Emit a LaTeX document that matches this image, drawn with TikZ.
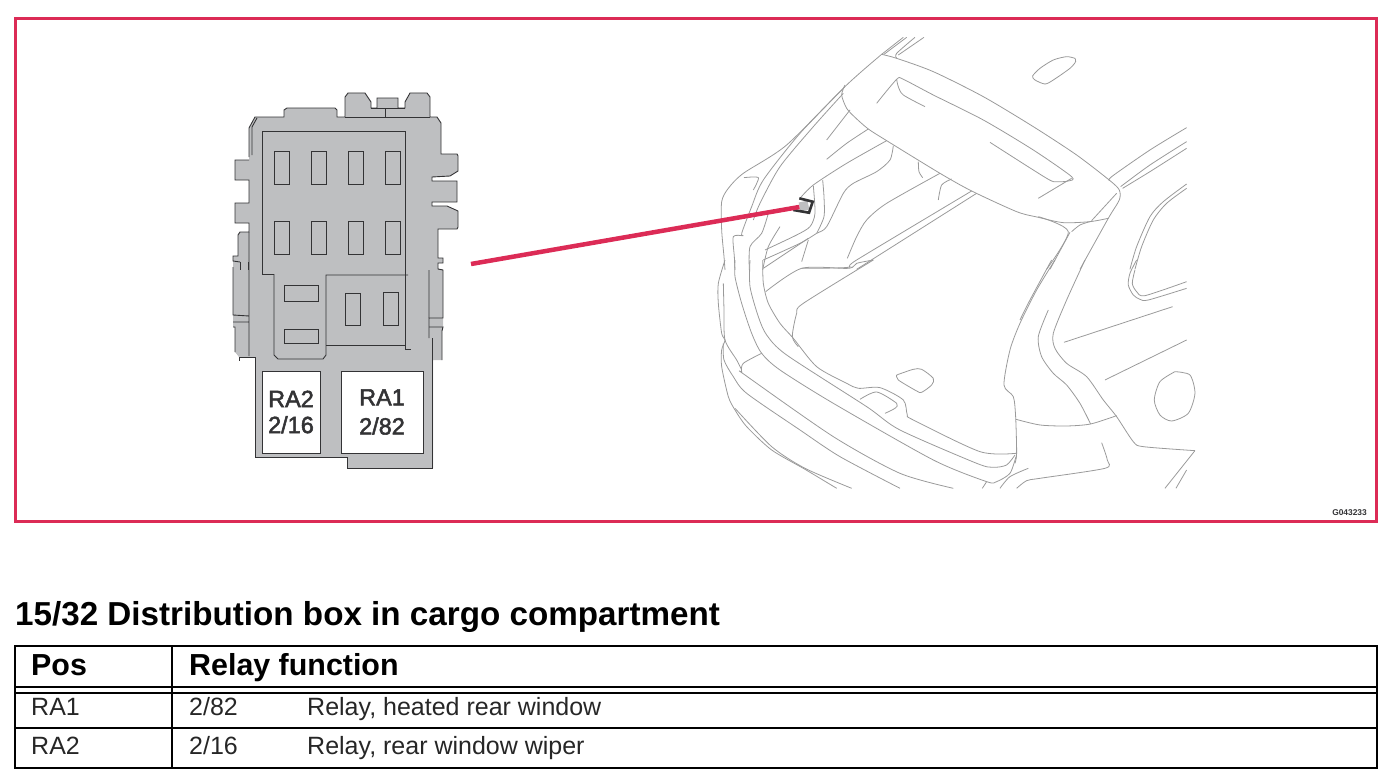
\documentclass[tikz,border=0pt]{standalone}
\usepackage{fontspec}
\setmainfont{Liberation Sans}
\newfontface\relayfont[FakeBold=2.2]{Liberation Sans}
\definecolor{framered}{HTML}{DC2B56}
\definecolor{boxgrey}{HTML}{BEBFC1}
\definecolor{boxline}{HTML}{333335}
\definecolor{carline}{HTML}{9A9A9A}
\tikzset{
	fuse/.style={draw=boxline,line width=0.9pt},
	boxedge/.style={draw=boxline,line width=0.9pt},
	carstroke/.style={draw=carline,line width=0.8pt},
	relaybox/.style={draw=boxline,fill=white,line width=0.9pt,inner sep=0pt,align=center,text=boxline,font=\fontsize{23.5}{26}\relayfont},
	tablerule/.style={line width=2pt},
	headtext/.style={anchor=base west,inner sep=0pt,font=\fontsize{30.4}{32}\selectfont\bfseries},
	celltext/.style={anchor=base west,inner sep=0pt,text=black!85,font=\fontsize{25}{28}\selectfont},
}
\newcommand{\carpath}[1]{\draw[carstroke] plot[smooth,tension=0.45] coordinates {#1};}
\begin{document}
\begin{tikzpicture}[x=1pt,y=-1pt]
	\useasboundingbox (0,0) rectangle (1390,784);
	\draw[framered,line width=3pt] (15,19) rectangle (1376,521);
	\node[anchor=east,inner sep=0pt,text=boxline,font=\fontsize{8.4}{9}\selectfont\bfseries] (drawingno) at (1367,513) {G043233};

	\fill[boxgrey] (249,128) -- (255,117) -- (284,117) -- (284,110) -- (287,108) -- (335,108) -- (337,110) -- (337,117) -- (345,117) -- (345,97) -- (348,93) -- (365,93) -- (371,102) -- (371,108) -- (377,108) -- (377,98) -- (398,98) -- (398,108) -- (405,108) -- (405,102) -- (410,93) -- (427,93) -- (430,97) -- (430,117) -- (437,117) -- (441,123) -- (441,154) -- (457,154) -- (458,156) -- (458,171) -- (450,176) -- (432,177) -- (432,181) -- (457,181) -- (457,202) -- (432,202) -- (432,206) -- (447,206) -- (458,211) -- (458,227) -- (457,229) -- (438,229) -- (438,258) -- (443,258) -- (443,263) -- (438,263) -- (438,269) -- (443,270) -- (443,318) -- (443,327) -- (442,331) -- (442,360) -- (433,360) -- (433,468) -- (347,468) -- (347,457) -- (255,457) -- (255,357) -- (239,357) -- (235,352) -- (235,327) -- (233,327) -- (233,256) -- (238,256) -- (238,235) -- (240,232) -- (249,232) -- (249,223) -- (235,223) -- (235,203) -- (249,203) -- (249,180) -- (235,180) -- (235,160) -- (249,160) -- cycle;
	\draw[boxedge] (249,157) -- (249,128) -- (255,117) -- (284,117) -- (284,110) -- (287,108) -- (335,108) -- (337,110) -- (337,117) -- (345,117) -- (345,97) -- (348,93) -- (365,93) -- (371,102) -- (371,108) -- (377,108) -- (377,98) -- (398,98) -- (398,108) -- (405,108) -- (405,102) -- (410,93) -- (427,93) -- (430,97) -- (430,117) -- (437,117) -- (441,123) -- (441,154) -- (457,154) -- (458,156) -- (458,171) -- (450,176) -- (432,177) -- (432,181) -- (457,181) -- (457,202) -- (432,202) -- (432,206) -- (447,206) -- (458,211) -- (458,227) -- (457,229) -- (438,229) -- (438,258) -- (443,258) -- (443,263) -- (438,263) -- (438,269) -- (443,270) -- (443,318) -- (429,318) -- (429,338);
	\draw[boxedge] (429,270) -- (429,318) (429,327) -- (443,327) -- (442,331) -- (442,360);
	\draw[boxedge] (348,457) -- (255,457) -- (255,357) -- (239,357) -- (239,361);
	\draw[boxedge] (347,457) -- (347,468) -- (432,468) -- (432,338);
	\draw[boxedge] (249,160) -- (235,160) -- (235,180) -- (249,180) -- (249,203) -- (235,203) -- (235,223) -- (249,223) -- (249,232) -- (240,232) -- (238,235) -- (238,256) -- (233,256) -- (233,261) -- (240,262);
	\draw[boxedge] (233,267) -- (233,315) -- (249,316) (233,322) -- (249,322) (233,327) -- (235,327) -- (235,352) (249,232) -- (249,356);
	\draw[boxedge] (252,155) -- (252,127) -- (257,118);
	\draw[boxedge] (240,262) -- (240,270) (248,262) -- (248,270) (371,108) -- (405,108) (385,108) -- (385,117) (345,117) -- (430,117);

	\draw[boxedge] (274,274) -- (262,274) -- (262,131) -- (405,131) -- (405,349) -- (411,349) (405,345) -- (326,345);
	\draw[boxedge] (274,274) -- (274,355) -- (278,359) -- (323,359) -- (326,355) -- (326,275) -- (408,275);
	\foreach \i in {274,311,348,385}{
		\foreach \j in {151,221}{
			\draw[fuse] (\i,\j) rectangle ++(15,33);
		}
	}
	\draw[fuse] (284,285) rectangle (318,301);
	\draw[fuse] (284,329) rectangle (318,343);
	\draw[fuse] (345,293) rectangle (360,325);
	\draw[fuse] (383,292) rectangle (398,325);
	\node[relaybox,minimum width=58pt,minimum height=82pt] (boxratwo) at (291,412) {RA2\\2/16};
	\node[relaybox,minimum width=82pt,minimum height=82pt] (boxraone) at (382,412) {RA1\\[3pt]2/82};

	\begin{scope}[shift={(700,30)},x=0.3333pt,y=-0.3333pt]
		\carpath{(545,73)(590,85)(700,125)(850,200)(1000,290)(1130,375)(1230,452)(1258,480)(1258,510)(1225,565)(1140,718)}
		\carpath{(1250,490)(1175,572)}
		\carpath{(1225,565)(1170,575)(1090,578)(1015,562)(950,545)(815,483)(720,430)(560,332)(505,297)(465,262)(440,235)(425,195)(435,165)}
		\carpath{(530,220)(590,148)(610,148)(700,195)(850,270)(1000,360)(1115,440)(1105,453)(1070,455)(1040,445)(870,337)}
		\carpath{(590,148)(595,170)(610,195)(675,230)}
		\carpath{(1115,445)(1015,505)}
		\carpath{(545,73)(610,22)}
		\carpath{(552,73)(620,22)}
		\carpath{(590,85)(590,70)(645,22)}
		\carpath{(595,75)(672,22)}
		\carpath{(1125,85)(1100,80)(1060,90)(1020,115)(998,138)(1005,150)(1035,162)(1060,150)(1110,115)(1127,95)(1125,85)}
		\carpath{(1230,452)(1235,440)(1350,360)(1460,293)}
		\carpath{(1262,470)(1350,405)(1460,335)}
		\carpath{(1268,475)(1350,425)(1460,355)}
		\carpath{(1290,718)(1310,650)(1350,560)(1390,515)(1460,462)}
		\carpath{(1305,718)(1325,650)(1360,570)(1400,520)(1460,475)}
		\carpath{(1015,560)(1105,605)(1040,718)}
		\carpath{(1110,607)(1050,718)}
		\carpath{(1115,605)(1140,585)(1170,575)}
		\carpath{(545,73)(440,165)(260,345)(130,430)(85,475)(65,515)(65,600)(72,680)(75,720)}
		\carpath{(435,170)(300,310)(190,450)(155,530)(125,610)(130,617)(100,620)(103,680)(105,720)}
		\carpath{(430,190)(340,290)(240,410)(180,520)(160,570)}
		\carpath{(132,443)(175,443)(160,480)}
		\carpath{(450,240)(380,330)}
		\carpath{(505,297)(440,340)(380,388)}
		\carpath{(560,332)(440,400)(340,465)(300,505)}
		\carpath{(240,590)(205,650)(188,720)}
		\carpath{(580,347)(570,390)(530,425)(460,460)(430,490)(380,590)(350,610)(300,640)(190,690)}
		\carpath{(368,450)(372,500)(372,560)(350,610)}
		\carpath{(340,468)(345,550)(330,590)(290,615)(195,660)}
		\carpath{(205,550)(185,610)(150,650)(148,720)}
		\carpath{(325,630)(305,695)}
		\carpath{(325,625)(190,715)}
		\carpath{(655,395)(657,425)(668,443)}
		\carpath{(720,430)(560,520)(500,570)(470,620)(442,685)}
		\carpath{(755,447)(725,465)(715,510)}
		\carpath{(815,483)(470,690)(445,712)(305,715)}
		\carpath{(830,490)(470,718)}
	\end{scope}
	\begin{scope}[shift={(700,260)},x=0.3333pt,y=-0.3333pt]
		\carpath{(75,0)(55,70)(55,130)(65,220)(75,240)(65,270)(65,320)(85,410)(105,450)(140,500)(215,570)(315,628)(410,685)}
		\carpath{(70,70)(72,150)(75,240)(110,300)(125,330)}
		\carpath{(105,0)(105,50)(125,130)(155,220)(185,280)(240,330)(400,430)(700,600)(860,665)(890,665)(930,640)(948,590)}
		\carpath{(150,0)(150,80)(175,170)(200,225)(260,285)(500,440)(600,510)(830,610)(880,622)(920,615)(945,585)}
		\carpath{(188,0)(190,70)(205,130)(240,190)(280,235)(350,320)(440,370)(475,385)(540,383)(610,420)(622,465)(640,480)(840,575)(948,580)}
		\carpath{(197,95)(305,25)(445,25)(470,10)(520,0)}
		\carpath{(520,0)(310,130)(290,160)(277,230)(295,260)}
		\carpath{(185,280)(130,310)(125,335)(135,345)(400,530)(600,640)(760,685)}
		\carpath{(70,250)(72,300)(100,350)(140,400)(300,510)(420,590)(600,685)}
		\carpath{(105,445)(215,560)(315,625)(455,685)}
		\carpath{(590,345)(640,328)(665,328)(700,355)(695,375)(665,397)(650,393)(595,360)(590,345)}
		\carpath{(480,418)(530,396)(590,430)(585,445)(555,460)}
		\carpath{(1065,0)(1010,90)(960,190)(930,270)(912,375)(940,410)(947,470)(950,580)(945,610)}
		\carpath{(1055,0)(990,120)(960,180)}
		\carpath{(1155,0)(1100,120)(1060,220)(1065,265)(1100,310)(1160,350)(1210,420)(1250,470)(1300,545)(1330,560)(1485,572)}
		\carpath{(1485,572)(1395,685)}
		\carpath{(1045,150)(1015,230)(1025,290)(1060,340)(1100,375)(1140,430)(1172,492)}
		\carpath{(948,478)(1020,495)(1100,498)(1172,492)(1250,467)}
		\carpath{(1205,548)(1222,600)(1215,625)(1020,655)(980,662)(950,685)}
		\carpath{(985,625)(930,650)(900,685)}
		\carpath{(860,665)(847,685)}
		\carpath{(1460,630)(1428,685)}
		\carpath{(1310,0)(1290,40)(1285,75)(1300,105)(1320,118)(1345,120)(1460,85)}
		\carpath{(1305,30)(1297,70)(1310,95)(1335,107)(1460,65)}
		\carpath{(1092,247)(1418,140)}
		\carpath{(1215,360)(1460,240)}
		\carpath{(1425,335)(1470,345)(1485,400)(1465,460)(1415,483)(1380,465)(1363,420)(1380,365)(1425,335)}
	\end{scope}

	\node[fill=boxgrey,minimum size=9pt,inner sep=0pt,rotate=12] (marker) at (804,206) {};
	\draw[boxline,line width=2.6pt] (799.3,198.3) -- (812.7,201.7) -- (809,212.7) -- (793.3,210);
	\coordinate (leadstart) at (471,264);
	\draw[framered,line width=4.5pt] (leadstart) -- (marker.west);

	\node[anchor=base west,inner sep=0pt,font=\fontsize{33.2}{36}\selectfont\bfseries] (title) at (15,625) {15/32 Distribution box in cargo compartment};
	\draw[tablerule] (15,646) rectangle (1377,768);
	\draw[tablerule] (15,687) -- (1377,687);
	\draw[tablerule] (15,693) -- (1377,693);
	\draw[tablerule] (15,728) -- (1377,728);
	\draw[line width=1.3pt] (172,646) -- (172,768);
	\node[headtext] (headpos) at (31,675) {Pos};
	\node[headtext] (headrelay) at (189,675) {Relay function};
	\node[celltext] (posone) at (31,715) {RA1};
	\node[celltext] (numone) at (189,715) {2/82};
	\node[celltext] (funcone) at (307,715) {Relay, heated rear window};
	\node[celltext] (postwo) at (31,754) {RA2};
	\node[celltext] (numtwo) at (189,754) {2/16};
	\node[celltext] (functwo) at (307,754) {Relay, rear window wiper};
\end{tikzpicture}
\end{document}
